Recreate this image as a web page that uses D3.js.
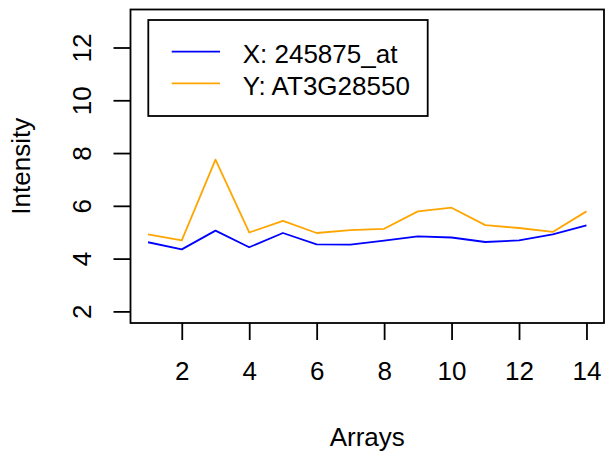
<!DOCTYPE html>
<html>
<head>
<meta charset="utf-8">
<script src="https://cdn.jsdelivr.net/npm/d3@7"></script>
<style>
  body { margin: 0; background: #fff; }
  svg { display: block; font-family: "Liberation Sans", Arial, sans-serif; }
</style>
</head>
<body>
<div id="chart"></div>
<script>
const arrays = [1, 2, 3, 4, 5, 6, 7, 8, 9, 10, 11, 12, 13, 14];
const seriesX = [4.62, 4.35, 5.06, 4.43, 4.97, 4.54, 4.53, 4.68, 4.84, 4.80, 4.63, 4.69, 4.92, 5.26];
const seriesY = [4.92, 4.69, 7.75, 4.99, 5.43, 4.97, 5.08, 5.13, 5.79, 5.93, 5.27, 5.16, 5.01, 5.79];
const seriesNames = ["X: 245875_at", "Y: AT3G28550"];
const seriesColors = ["#0000ff", "#ffa500"];
const xTicks = [2, 4, 6, 8, 10, 12, 14];
const yTicks = [2, 4, 6, 8, 10, 12];

const width = 606, height = 453;
const plot = { left: 130.5, right: 604, top: 9.5, bottom: 323 };
const fontSize = 26;

const svg = d3.select("#chart").append("svg")
    .attr("width", width)
    .attr("height", height);

// R style: 4% padding around data range
const x = d3.scaleLinear().domain([0.48, 14.52]).range([plot.left, plot.right]);
const y = d3.scaleLinear().domain([1.56, 13.44]).range([plot.bottom, plot.top]);

// lines
const line = d3.line()
    .x((d, i) => x(arrays[i]))
    .y(d => y(d));

[seriesX, seriesY].forEach((s, k) => {
    svg.append("path")
        .datum(s)
        .attr("fill", "none")
        .attr("stroke", seriesColors[k])
        .attr("stroke-width", 1.8)
        .attr("stroke-linejoin", "round")
        .attr("d", line);
});

// box
svg.append("rect")
    .attr("x", plot.left)
    .attr("y", plot.top)
    .attr("width", plot.right - plot.left)
    .attr("height", plot.bottom - plot.top)
    .attr("fill", "none")
    .attr("stroke", "#000")
    .attr("stroke-width", 1.8);

// x axis
const xAxis = svg.append("g")
    .attr("transform", `translate(0,${plot.bottom})`)
    .call(d3.axisBottom(x).tickValues(xTicks).tickSize(17).tickPadding(21.5));
xAxis.select(".domain").remove();
xAxis.selectAll("line").attr("stroke-width", 1.8);
xAxis.selectAll("text").attr("font-size", fontSize).attr("font-family", null).attr("fill", "#000");

// y axis
const yAxis = svg.append("g")
    .attr("transform", `translate(${plot.left},0)`)
    .call(d3.axisLeft(y).tickValues(yTicks).tickSize(17));
yAxis.select(".domain").remove();
yAxis.selectAll("line").attr("stroke-width", 1.8);
yAxis.selectAll("text")
    .attr("font-size", fontSize)
    .attr("font-family", null)
    .attr("fill", "#000")
    .attr("transform", "rotate(-90)")
    .attr("x", 0)
    .attr("y", -40)
    .attr("dy", null)
    .attr("text-anchor", "middle");

// axis titles
svg.append("text")
    .attr("x", (plot.left + plot.right) / 2)
    .attr("y", 446)
    .attr("text-anchor", "middle")
    .attr("font-size", fontSize)
    .text("Arrays");

svg.append("text")
    .attr("transform", `translate(30,${(plot.top + plot.bottom) / 2}) rotate(-90)`)
    .attr("text-anchor", "middle")
    .attr("font-size", fontSize)
    .text("Intensity");

// legend
const legend = svg.append("g");
legend.append("rect")
    .attr("x", 148.3)
    .attr("y", 20)
    .attr("width", 279.4)
    .attr("height", 96)
    .attr("fill", "#fff")
    .attr("stroke", "#000")
    .attr("stroke-width", 1.8);

seriesNames.forEach((name, i) => {
    const cy = 51.7 + i * 31.6;
    legend.append("line")
        .attr("x1", 171.7).attr("x2", 220)
        .attr("y1", cy).attr("y2", cy)
        .attr("stroke", seriesColors[i])
        .attr("stroke-width", 1.8);
    legend.append("text")
        .attr("x", 242.7)
        .attr("y", cy + 11.6)
        .attr("font-size", fontSize)
        .text(name);
});
</script>
</body>
</html>
